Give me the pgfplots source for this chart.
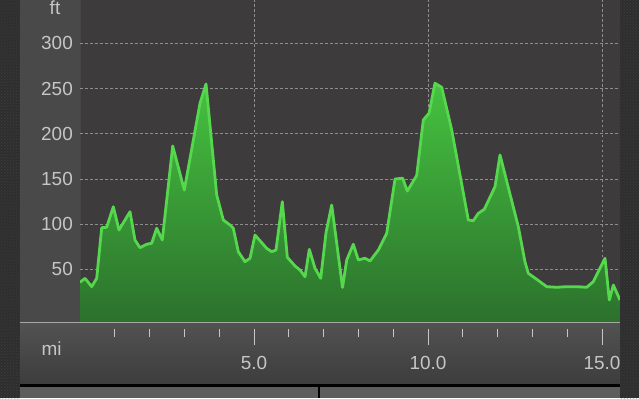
\documentclass[border=0pt]{standalone}
\usepackage{pgfplots}
\pgfplotsset{compat=1.18}
\usepackage{pgfplotstable}
\usepackage{fontspec}
\setmainfont{Liberation Sans}
\usetikzlibrary{patterns}

\definecolor{carbon}{HTML}{2E2E2E}
\definecolor{panel}{HTML}{4A4949}
\definecolor{plotbg}{HTML}{3D3B3B}
\definecolor{txt}{HTML}{C6C6C6}
\definecolor{gridc}{HTML}{8E8E8E}
\definecolor{lineg}{HTML}{55D84D}
\definecolor{fillt}{HTML}{45C23F}
\definecolor{fillb}{HTML}{2C712D}
\definecolor{strip}{HTML}{5E5D5D}
\definecolor{bpanelt}{HTML}{535253}
\definecolor{bpanelb}{HTML}{3E3D3E}

\pgfplotstableread{
x y
0.000 35.6
0.144 40.0
0.336 30.8
0.480 40.0
0.624 96.0
0.767 96.5
0.957 119.2
1.121 93.5
1.437 113.7
1.580 82.4
1.724 73.9
1.917 77.7
2.060 78.8
2.204 95.4
2.365 82.4
2.664 186.4
2.997 137.7
3.448 233.6
3.621 255.0
3.928 132.2
4.118 104.5
4.310 99.0
4.405 95.4
4.549 69.5
4.741 58.4
4.885 62.2
5.029 87.9
5.365 73.2
5.509 69.5
5.632 71.3
5.813 124.8
5.957 63.3
6.178 53.7
6.322 49.2
6.466 41.8
6.589 72.1
6.753 51.1
6.917 40.0
7.069 90.5
7.233 121.1
7.543 29.9
7.664 60.3
7.853 77.7
7.997 60.3
8.190 62.2
8.333 59.2
8.572 71.3
8.813 89.8
9.052 149.9
9.273 150.7
9.405 136.6
9.675 153.8
9.865 215.2
10.029 222.6
10.201 255.8
10.394 251.3
10.681 204.1
11.158 104.5
11.302 103.8
11.445 111.9
11.618 116.4
11.925 141.4
12.069 176.5
12.595 97.1
12.787 58.1
12.882 45.6
13.123 38.9
13.411 30.8
13.698 30.1
13.985 30.8
14.273 30.8
14.560 30.1
14.750 36.3
15.086 62.2
15.210 16.0
15.325 32.6
15.517 16.0
}\elev

\begin{document}
\begin{tikzpicture}[x=1bp,y=1bp]
\fill[panel] (20,76) rectangle (80,398);
\shade[top color=bpanelt, bottom color=bpanelb] (20,14) rectangle (620,76);
\fill[black] (20,11.5) rectangle (620,14);
\fill[strip] (20,0) rectangle (620,11.5);
\fill[black] (318,0) rectangle (320,11.5);
\fill[plotbg] (80,76) rectangle (620,398);
\draw[black!45!gray, line width=0.6bp] (80,76) -- (80,398);
\begin{axis}[
  at={(80bp,76bp)}, anchor=south west,
  width=540bp, height=322bp, scale only axis,
  xmin=0, xmax=15.517, ymin=-8.3, ymax=347.9,
  axis line style={draw=none},
  xtick={5,10,15}, xticklabels={5.0,10.0,15.0},
  minor xtick={1,2,3,4,6,7,8,9,11,12,13,14},
  ytick={50,100,150,200,250,300},
  xtick pos=bottom, ytick pos=left,
  grid=major,
  major grid style={draw=gridc, dash pattern=on 2.5bp off 2.5bp, line width=0.6bp},
  ytick style={draw=none},
  xtick style={draw=txt, line width=0.9bp, yshift=-7bp},
  tick align=outside, major tick length=16bp, minor tick length=8bp,
  tick label style={font=\fontsize{19}{22}\selectfont, text=txt},
  /pgf/number format/assume math mode=true,
  yticklabel style={anchor=east, inner sep=0pt, xshift=9bp},
  xticklabel style={anchor=base, inner sep=0pt, yshift=-31bp},
  clip=true,
]
\addplot[draw=none, top color=fillt, bottom color=fillb] table[x=x,y=y] {\elev} |- (rel axis cs:0,0) -- cycle;
\addplot[draw=lineg, line width=2.8bp, line join=round] table[x=x,y=y] {\elev};
\end{axis}
\draw[gray!70, line width=0.8bp] (20,75.6) -- (620,75.6);
\node[text=txt, font=\fontsize{19}{22}\selectfont] at (55,390) {ft};
\node[text=txt, font=\fontsize{19}{22}\selectfont] at (51.5,49) {mi};
\foreach \a/\b in {0/20,620/639}{
  \fill[carbon] (\a,0) rectangle (\b,398);
  \fill[pattern=crosshatch dots, pattern color=black!75] (\a,0) rectangle (\b,398);
}
\pgfresetboundingbox
\useasboundingbox (0,0) rectangle (639,398);
\end{tikzpicture}
\end{document}
